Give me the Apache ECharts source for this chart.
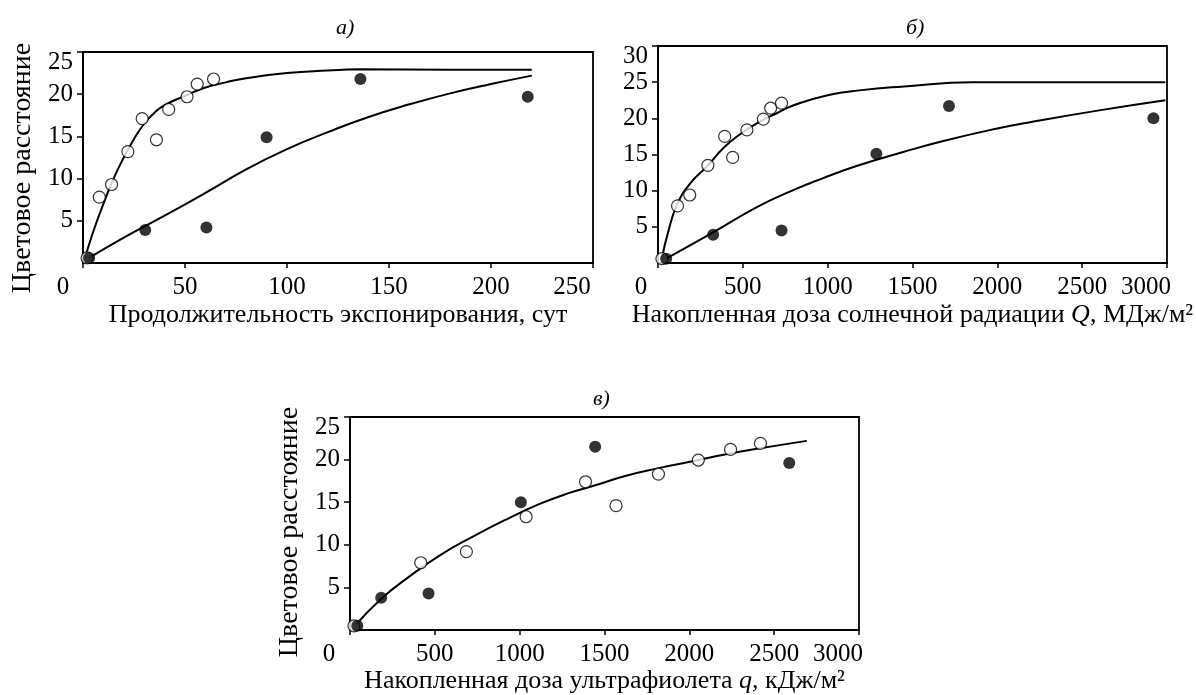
<!DOCTYPE html>
<html>
<head>
<meta charset="utf-8">
<script src="https://cdn.jsdelivr.net/npm/echarts@6/dist/echarts.min.js"></script>
<style>
  html, body { margin: 0; padding: 0; background: #fff; }
  #chart { width: 1196px; height: 695px; }
</style>
</head>
<body>
<div id="chart"></div>
<script>
// а) продолжительность экспонирования, сут
const aOpenX = [2, 8, 14, 22, 29, 36, 42, 51, 56, 64]
const aOpenY = [0.6, 7.8, 9.3, 13.2, 17.1, 14.6, 18.2, 19.7, 21.2, 21.8]
const aFillX = [3, 30.5, 60.5, 90, 136, 218]
const aFillY = [0.6, 3.9, 4.2, 14.9, 21.8, 19.7]
const aUpperX = [1, 5, 10, 15, 20, 25, 30, 35, 40, 50, 60, 70, 80, 100, 120, 135, 180, 220]
const aUpperY = [0.6, 3.7, 7.0, 10.0, 12.5, 14.7, 16.5, 17.8, 18.7, 19.8, 20.8, 21.4, 21.9, 22.5, 22.8, 22.95, 22.9, 22.9]
const aLowerX = [3, 20, 40, 60, 80, 100, 120, 140, 160, 180, 200, 220]
const aLowerY = [0.6, 3.0, 5.6, 8.3, 11.1, 13.5, 15.5, 17.3, 18.8, 20.1, 21.2, 22.2]

// б) накопленная доза солнечной радиации Q
const bOpenX = [23, 115, 187, 294, 393, 440, 524, 621, 664, 728]
const bOpenY = [0.6, 7.9, 9.4, 13.5, 17.5, 14.6, 18.4, 19.9, 21.4, 22.1]
const bFillX = [48, 325, 728, 1287, 1715, 2920]
const bFillY = [0.6, 3.9, 4.5, 15.1, 21.7, 20.0]
const bUpperX = [23, 60, 115, 190, 290, 390, 490, 590, 700, 800, 1000, 1200, 1450, 1850, 2990]
const bUpperY = [0.6, 4.3, 8.2, 11.0, 13.4, 16.0, 17.9, 19.4, 20.7, 21.8, 23.2, 23.9, 24.4, 25.0, 25.0]
const bLowerX = [48, 330, 580, 780, 970, 1170, 1440, 1670, 2000, 2200, 2600, 2990]
const bLowerY = [0.6, 4.3, 7.7, 9.9, 11.7, 13.4, 15.3, 16.8, 18.6, 19.5, 21.1, 22.5]

// в) накопленная доза ультрафиолета q
const cOpenX = [23, 417, 686, 1038, 1388, 1568, 1818, 2053, 2243, 2419]
const cOpenY = [0.5, 7.9, 9.2, 13.3, 17.4, 14.6, 18.3, 19.95, 21.2, 21.9]
const cFillX = [43, 184, 463, 1007, 1445, 2589]
const cFillY = [0.5, 3.8, 4.3, 15.0, 21.5, 19.6]
const cCurveX = [33, 180, 337, 532, 727, 923, 1118, 1294, 1431, 1627, 1820, 2018, 2210, 2409, 2692]
const cCurveY = [0.6, 3.6, 6.1, 8.8, 11.0, 13.0, 14.8, 16.1, 16.9, 18.1, 19.0, 19.8, 20.6, 21.3, 22.2]

const FONT = '"Liberation Serif", "Times New Roman", serif'
const TICK_FONT = 25
const NAME_FONT = 26
const Y_NAME = 'Цветовое расстояние'

function pairs(xs, ys) {
  return xs.map((x, i) => [x, ys[i]])
}

function xAxisFor(gridIndex, max, interval, name, nameGap, zeroPad) {
  return {
    type: 'value',
    gridIndex,
    min: 0,
    max,
    interval,
    name,
    nameLocation: 'middle',
    nameGap,
    nameTextStyle: {
      fontFamily: FONT, fontSize: NAME_FONT, color: '#000',
      rich: { i: { fontFamily: FONT, fontSize: NAME_FONT, fontStyle: 'italic', color: '#000' } },
    },
    axisLine: { show: true, lineStyle: { color: '#000', width: 1.8 } },
    axisTick: { show: true, length: 5, lineStyle: { color: '#000', width: 1.5 } },
    splitLine: { show: false },
    axisLabel: {
      margin: 12,
      fontFamily: FONT,
      fontSize: TICK_FONT,
      color: '#000',
      formatter: (v) => (v === 0 ? '{zero|0}' : v === max ? '{last|' + v + '}' : String(v)),
      rich: {
        zero: { fontFamily: FONT, fontSize: TICK_FONT, color: '#000', padding: [0, zeroPad, 0, 0] },
        last: { fontFamily: FONT, fontSize: TICK_FONT, color: '#000', padding: [0, 42, 0, 0] },
      },
    },
  }
}

function yAxisFor(gridIndex, max) {
  return {
    type: 'value',
    gridIndex,
    min: 0,
    max,
    interval: 5,
    axisLine: { show: true, lineStyle: { color: '#000', width: 1.8 } },
    axisTick: { show: true, length: 6, lineStyle: { color: '#000', width: 1.5 } },
    splitLine: { show: false },
    axisLabel: {
      margin: 10,
      showMinLabel: false,
      fontFamily: FONT,
      fontSize: TICK_FONT,
      color: '#000',
      formatter: (v) => (v === max ? '{top|' + v + '}' : String(v)),
      rich: {
        top: { fontFamily: FONT, fontSize: TICK_FONT, color: '#000', padding: [20, 0, 0, 0] },
      },
    },
  }
}

function openSeries(i, xs, ys) {
  return {
    type: 'scatter', xAxisIndex: i, yAxisIndex: i, z: 5,
    symbol: 'circle', symbolSize: 12,
    itemStyle: { color: '#fff', borderColor: '#000', borderWidth: 1.2 },
    data: pairs(xs, ys),
  }
}

function fillSeries(i, xs, ys) {
  return {
    type: 'scatter', xAxisIndex: i, yAxisIndex: i, z: 6,
    symbol: 'circle', symbolSize: 12,
    itemStyle: { color: '#000', borderColor: '#000', borderWidth: 0 },
    data: pairs(xs, ys),
  }
}

function curveSeries(i, xs, ys) {
  return {
    type: 'line', xAxisIndex: i, yAxisIndex: i, z: 3,
    showSymbol: false, smooth: 0.5,
    lineStyle: { color: '#000', width: 2 },
    data: pairs(xs, ys),
  }
}

// подпись оси Y, повернутая на 90°
function yTitle(x, y) {
  return {
    type: 'text', x, y, rotation: Math.PI / 2,
    style: {
      text: Y_NAME, fontFamily: FONT, fontSize: 28, fill: '#000',
      align: 'center', verticalAlign: 'middle',
    },
  }
}

const chart = echarts.init(document.getElementById('chart'))
const titleStyle = { fontFamily: FONT, fontSize: 22, fontStyle: 'italic', fontWeight: 'normal', color: '#000' }
const gridBox = { show: true, borderColor: '#000', borderWidth: 1.8, backgroundColor: 'transparent' }

chart.setOption({
  backgroundColor: '#fff',
  animation: false,
  title: [
    { text: 'а)', left: 331, top: 12, textStyle: titleStyle },
    { text: 'б)', left: 901, top: 12, textStyle: titleStyle },
    { text: 'в)', left: 588, top: 383, textStyle: titleStyle },
  ],
  graphic: [yTitle(23, 168), yTitle(290, 532)],
  grid: [
    Object.assign({ left: 83, top: 52, width: 510, height: 211 }, gridBox),
    Object.assign({ left: 658, top: 46, width: 509, height: 217 }, gridBox),
    Object.assign({ left: 350, top: 417, width: 509, height: 216 }, gridBox),
  ],
  xAxis: [
    xAxisFor(0, 250, 50, 'Продолжительность экспонирования, сут', 39, 40),
    xAxisFor(1, 3000, 500, 'Накопленная доза солнечной радиации {i|Q}, МДж/м²', 39, 34),
    xAxisFor(2, 3000, 500, 'Накопленная доза ультрафиолета {i|q}, кДж/м²', 34, 42),
  ],
  yAxis: [yAxisFor(0, 25), yAxisFor(1, 30), yAxisFor(2, 25)],
  series: [
    curveSeries(0, aUpperX, aUpperY),
    curveSeries(0, aLowerX, aLowerY),
    openSeries(0, aOpenX, aOpenY),
    fillSeries(0, aFillX, aFillY),
    curveSeries(1, bUpperX, bUpperY),
    curveSeries(1, bLowerX, bLowerY),
    openSeries(1, bOpenX, bOpenY),
    fillSeries(1, bFillX, bFillY),
    curveSeries(2, cCurveX, cCurveY),
    openSeries(2, cOpenX, cOpenY),
    fillSeries(2, cFillX, cFillY),
  ],
})
</script>
</body>
</html>
